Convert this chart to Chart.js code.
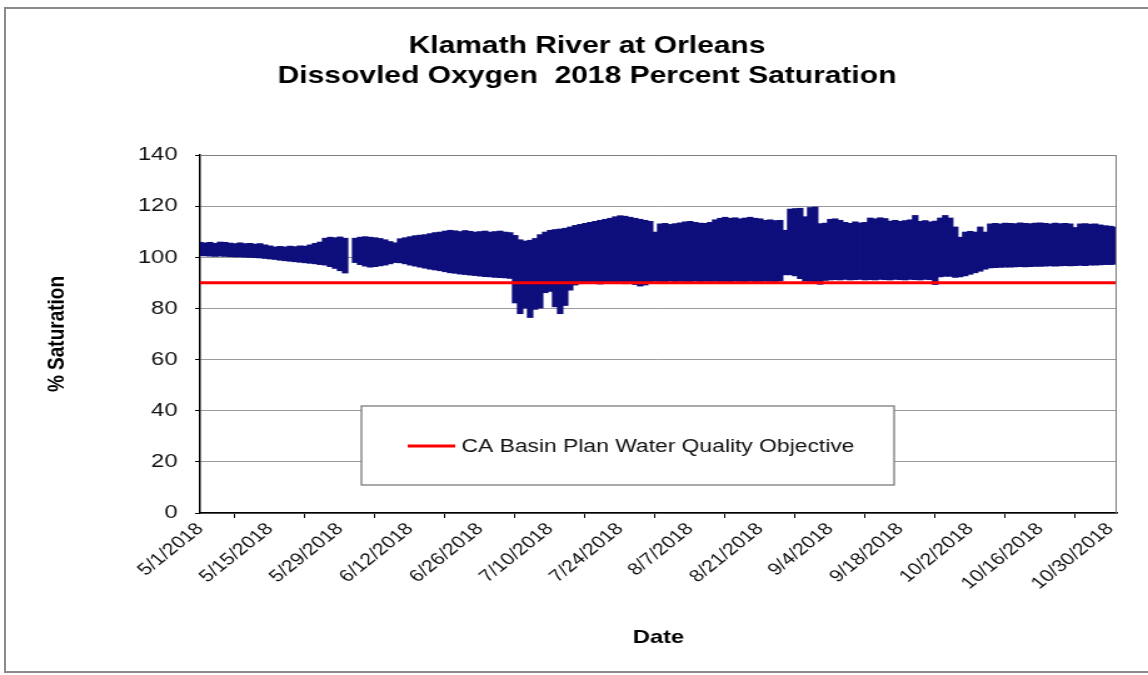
<!DOCTYPE html>
<html>
<head>
<meta charset="utf-8">
<script src="https://cdn.jsdelivr.net/npm/chart.js@4"></script>
<style>
  html, body { margin: 0; padding: 0; background: #fff; overflow: hidden; }
  #cadre { position: absolute; left: 4px; top: 7px; width: 1200px; height: 662px; border: 2px solid #8a8a8a; border-right: none; }
  /* le canevas est etire horizontalement comme l'image d'origine */
  #graph { position: absolute; left: 0; top: 0; width: 1148px !important; height: 675px !important; }
</style>
</head>
<body>
<div id="cadre"></div>
<canvas id="graph" width="918" height="675"></canvas>
<script>
// ---------- donnees (1 valeur par jour depuis le 5/1/2018) ----------
const titre = ['Klamath River at Orleans', 'Dissovled Oxygen  2018 Percent Saturation'];
const etiquettesDates = ['5/1/2018', '5/15/2018', '5/29/2018', '6/12/2018', '6/26/2018', '7/10/2018', '7/24/2018',
  '8/7/2018', '8/21/2018', '9/4/2018', '9/18/2018', '10/2/2018', '10/16/2018', '10/30/2018'];
const joursEntreEtiquettes = 14;
const finAxeJours = 183.3;

// maximum journalier (% saturation)
const maxJour = [
  106, 105.8, 106, 105.6, 106.1, 106, 105.7, 105.5, 105.8, 105.5,
  105.6, 105.3, 105.5, 105, 104.6, 104.2, 104.4, 104.2, 104.5, 104.3,
  104.6, 104.5, 105, 105.6, 106.1, 107.6, 108, 107.8, 108.1, 107.6,
  null, 107.6, 108, 108.2, 108, 107.8, 107.5, 107, 106.3, 105.8,
  107.4, 107.8, 108.2, 108.6, 108.8, 109, 109.4, 109.8, 110, 110.4,
  110.7, 110.5, 110.2, 110.6, 110.3, 110, 110.2, 110.4, 110, 110.2,
  110.4, 110, 109.8, 108.7, 107, 106.5, 106.8, 107.5, 109, 110,
  110.7, 111, 111.2, 111.5, 112, 112.6, 113, 113.4, 113.8, 114.2,
  114.6, 115, 115.4, 116, 116.4, 116.2, 115.8, 115.4, 115, 114.6,
  114.2, 110, 113.2, 113.4, 113, 113.3, 113.6, 114, 114.2, 113.8,
  113.5, 113.4, 113.8, 114.8, 115.4, 115.8, 115.4, 115.6, 115.2, 115.5,
  115.8, 115.4, 115.2, 114.6, 114.8, 114.5, 114.6, 110.7, 119, 119.2,
  119.3, 116, 119.6, 119.8, 113.3, 113.5, 115, 115.2, 114.6, 113.8,
  113.4, 114, 113.6, 113.8, 115.5, 115.2, 115.6, 115.3, 114.3, 114.6,
  114.2, 114.5, 114.8, 116.5, 114.2, 114.5, 114, 114.3, 115.5, 116.5,
  115.5, 112, 108, 110, 110.3, 110, 112, 110, 113.2, 113.4,
  113.2, 113.5, 113.4, 113.3, 113.6, 113.4, 113.3, 113.5, 113.6, 113.4,
  113.2, 113.5, 113.3, 113.4, 113.2, 111.8, 113.2, 113.3, 113.1, 113.2,
  112.8, 112.5, 112.3, 112
];

// minimum journalier (% saturation)
const minJour = [
  100.5, 100.4, 100.3, 100.2, 100.3, 100.2, 100.1, 100, 100, 99.9,
  99.8, 99.7, 99.6, 99.4, 99.2, 99, 98.7, 98.5, 98.3, 98.1,
  97.9, 97.7, 97.5, 97.3, 97, 96.8, 96.2, 95.5, 94.6, 93.7,
  null, 97.8, 97, 96.4, 96, 96.2, 96.5, 96.8, 97.3, 97.8,
  97.7, 97.3, 96.8, 96.4, 96, 95.6, 95.2, 94.9, 94.6, 94.2,
  93.8, 93.6, 93.3, 93.1, 92.9, 92.7, 92.5, 92.3, 92.2, 92,
  91.9, 91.8, 91.6, 82, 77.8, 80, 76.3, 79.5, 80, 86,
  86.5, 80.5, 77.8, 81, 87, 89, 89.5, 90, 89.6, 89.8,
  89.4, 89.8, 90.2, 89.6, 89.8, 89.5, 89.7, 89.2, 88.6, 89,
  89.8, 90.5, 90.4, 90.2, 90.6, 90.3, 90.5, 90.4, 90.2, 90.6,
  90.3, 90.5, 90.4, 90.5, 90.3, 90.4, 90.2, 90.5, 90.4, 90.2,
  90.5, 90.3, 90.4, 90.5, 90.4, 90.3, 90.6, 93, 93, 92.6,
  91.5, 90.5, 90.4, 90.2, 89.3, 90.8, 91, 91.1, 91, 91.2,
  91, 91.1, 91.2, 91, 91.1, 91, 91.2, 91.1, 91, 91.2,
  91.1, 91, 91.2, 91.1, 91, 91.2, 91.1, 89.2, 92.2, 92.4,
  92.4, 92, 92.2, 92.6, 93.2, 93.8, 94.4, 95.2, 95.7, 95.8,
  95.9, 96, 96, 96.1, 96.2, 96.1, 96.2, 96.3, 96.3, 96.4,
  96.5, 96.4, 96.5, 96.6, 96.5, 96.6, 96.7, 96.6, 96.8, 96.8,
  96.9, 97, 97, 97.1
];

// objectif du Basin Plan
const objectifQualite = 90;

// ---------- construction des jeux de donnees ----------
const bandeJour = maxJour.map((hi, i) => ({ x: i, y: hi === null ? null : [minJour[i], hi] }));
const ligneObjectif = [{ x: 0, y: objectifQualite }, { x: finAxeJours, y: objectifQualite }];

const policeBase = '"Liberation Sans", Arial, sans-serif';
const centreTitre = 469.4;

// cadre gris haut/droite de la zone de trace
const cadrePlot = {
  id: 'cadrePlot',
  afterDatasetsDraw(chart) {
    const { ctx, chartArea: a } = chart;
    ctx.save();
    ctx.strokeStyle = '#7f7f7f';
    ctx.lineWidth = 1;
    ctx.beginPath();
    ctx.moveTo(a.left, a.top + 0.5);
    ctx.lineTo(a.right - 0.5, a.top + 0.5);
    ctx.lineTo(a.right - 0.5, a.bottom);
    ctx.stroke();
    ctx.restore();
  }
};

// titre centre sur toute l'image et pas seulement sur le canevas
const decaleTitre = {
  id: 'decaleTitre',
  afterLayout(chart) {
    const t = chart.titleBlock;
    if (!t) return;
    const w = t.right - t.left;
    t.left = centreTitre - w / 2;
    t.right = t.left + w;
  }
};

// legende encadree dans la zone de trace
const legendeBoite = {
  id: 'legendeBoite',
  afterDraw(chart) {
    const ds = chart.data.datasets[1];
    const ctx = chart.ctx;
    ctx.save();
    ctx.fillStyle = '#fff';
    ctx.fillRect(289, 406, 426, 79);
    ctx.strokeStyle = '#707070';
    ctx.lineWidth = 1.2;
    ctx.strokeRect(289, 406, 426, 79);
    ctx.strokeStyle = ds.borderColor;
    ctx.lineWidth = 3;
    ctx.beginPath();
    ctx.moveTo(326, 446);
    ctx.lineTo(364, 446);
    ctx.stroke();
    ctx.fillStyle = '#111';
    ctx.font = '18.3px ' + policeBase;
    ctx.textBaseline = 'middle';
    ctx.fillText(ds.label, 369, 447);
    ctx.restore();
  }
};

new Chart(document.getElementById('graph'), {
  type: 'bar',
  data: {
    datasets: [{
      type: 'bar',
      label: 'Dissolved Oxygen % Saturation',
      data: bandeJour,
      backgroundColor: 'rgb(14,14,124)',
      borderWidth: 0,
      barPercentage: 1.3,
      categoryPercentage: 1,
      order: 2
    }, {
      type: 'line',
      label: 'CA Basin Plan Water Quality Objective',
      data: ligneObjectif,
      borderColor: '#ff0000',
      borderWidth: 3,
      pointRadius: 0,
      fill: false,
      order: 1
    }]
  },
  options: {
    responsive: false,
    devicePixelRatio: 1,
    animation: false,
    layout: { padding: { left: 0, right: 25, top: 0, bottom: 0 } },
    plugins: {
      legend: { display: false },
      tooltip: { enabled: false },
      title: {
        display: true,
        text: titre,
        color: '#000',
        font: { family: policeBase, size: 24, weight: 'bold', lineHeight: 1.25 },
        padding: { top: 31, bottom: 64 }
      }
    },
    scales: {
      x: {
        type: 'linear',
        min: 0,
        max: finAxeJours,
        offset: false,
        border: { color: '#000', width: 1.5 },
        grid: { display: true, drawOnChartArea: false, tickLength: 5, tickColor: '#000' },
        ticks: {
          stepSize: joursEntreEtiquettes,
          includeBounds: false,
          autoSkip: false,
          minRotation: 45,
          maxRotation: 45,
          color: '#111',
          font: { family: policeBase, size: 17 },
          padding: 1,
          callback: v => etiquettesDates[v / joursEntreEtiquettes] || ''
        },
        title: {
          display: true,
          text: 'Date',
          color: '#000',
          font: { family: policeBase, size: 19, weight: 'bold' },
          padding: { top: 0, bottom: 26 }
        },
        afterFit: s => { s.height = 162; }
      },
      y: {
        min: 0,
        max: 140,
        border: { color: '#000', width: 1.5 },
        grid: { color: '#9a9a9a', lineWidth: 1, tickLength: 4, tickColor: '#000' },
        ticks: {
          stepSize: 20,
          color: '#111',
          font: { family: policeBase, size: 19 },
          padding: 14
        },
        title: {
          display: true,
          text: '% Saturation',
          color: '#000',
          font: { family: policeBase, size: 19, weight: 'bold' },
          padding: { top: 34.2, bottom: 0 }
        },
        afterFit: s => { s.width = 160; }
      }
    }
  },
  plugins: [decaleTitre, cadrePlot, legendeBoite]
});
</script>
</body>
</html>
